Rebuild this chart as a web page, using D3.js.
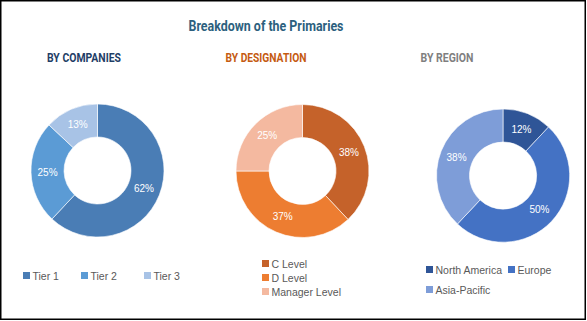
<!DOCTYPE html>
<html>
<head>
<meta charset="utf-8">
<script src="https://cdn.jsdelivr.net/npm/d3@7"></script>
<style>
  body { margin: 0; background: #fff; }
  svg { display: block; }
</style>
</head>
<body>
<div id="chart"></div>
<script>
// chart data
const companyLabels = ["Tier 1", "Tier 2", "Tier 3"];
const companyValues = [62, 25, 13];
const designationLabels = ["C Level", "D Level", "Manager Level"];
const designationValues = [38, 37, 25];
const regionLabels = ["North America", "Europe", "Asia-Pacific"];
const regionValues = [12, 50, 38];

const width = 587, height = 321;

const svg = d3.select("#chart").append("svg")
    .attr("width", width)
    .attr("height", height);

// frame
svg.append("rect")
    .attr("x", 0.75).attr("y", 0.75)
    .attr("width", width - 2.5).attr("height", height - 2.5)
    .attr("fill", "#fff")
    .attr("stroke", "#000")
    .attr("stroke-width", 1.5);

const headFont = "'Liberation Sans Narrow', 'Roboto', sans-serif";
const bodyFont = "'Liberation Sans', sans-serif";

svg.append("text")
    .attr("x", 266).attr("y", 31)
    .attr("text-anchor", "middle")
    .attr("font-family", headFont)
    .attr("font-weight", "bold")
    .attr("font-size", 15)
    .attr("fill", "#2c5f7e")
    .attr("textLength", 155)
    .attr("lengthAdjust", "spacingAndGlyphs")
    .text("Breakdown of the Primaries");

// panel setup
const panels = [
  { title: "BY COMPANIES", titleColor: "#1f3e66", tx: 84, tw: 74, cx: 97.5, cy: 170.5,
    labels: companyLabels, values: companyValues,
    colors: ["#4a7db5", "#5b9bd5", "#a8c3e6"],
    legend: [[23, 276], [81, 276], [144, 276]] },
  { title: "BY DESIGNATION", titleColor: "#c55a11", tx: 266, tw: 81, cx: 302.5, cy: 171,
    labels: designationLabels, values: designationValues,
    colors: ["#c5622a", "#ed7d31", "#f4b9a0"],
    legend: [[262, 264], [262, 278], [262, 292]] },
  { title: "BY REGION", titleColor: "#7f7f7f", tx: 447, tw: 53, cx: 503, cy: 175.5,
    labels: regionLabels, values: regionValues,
    colors: ["#2f5597", "#4472c4", "#7e9dd8"],
    legend: [[426, 270], [508, 270], [426, 290]] }
];

const pie = d3.pie().sort(null);
const arc = d3.arc().innerRadius(33.5).outerRadius(66.5);
const labelArc = d3.arc().innerRadius(50).outerRadius(50);

panels.forEach(p => {
  svg.append("text")
      .attr("x", p.tx).attr("y", 62)
      .attr("text-anchor", "middle")
      .attr("font-family", headFont)
      .attr("font-weight", "bold")
      .attr("font-size", 12)
      .attr("fill", p.titleColor)
      .attr("textLength", p.tw)
      .attr("lengthAdjust", "spacingAndGlyphs")
      .text(p.title);

  const arcs = pie(p.values);
  const g = svg.append("g").attr("transform", `translate(${p.cx},${p.cy})`);

  g.selectAll("path")
    .data(arcs)
    .join("path")
      .attr("d", arc)
      .attr("fill", (d, i) => p.colors[i])
      .attr("stroke", "#fff")
      .attr("stroke-width", 0.6);

  g.selectAll("text")
    .data(arcs)
    .join("text")
      .attr("transform", d => `translate(${labelArc.centroid(d)})`)
      .attr("text-anchor", "middle")
      .attr("dy", "0.35em")
      .attr("font-family", bodyFont)
      .attr("font-size", 10)
      .attr("fill", "#fff")
      .text(d => d.data + "%");

  // legend
  const lg = svg.append("g");
  p.labels.forEach((name, i) => {
    const [lx, ly] = p.legend[i];
    lg.append("rect")
        .attr("x", lx).attr("y", ly - 4)
        .attr("width", 7).attr("height", 7)
        .attr("fill", p.colors[i]);
    lg.append("text")
        .attr("x", lx + 9.5).attr("y", ly)
        .attr("dy", "0.35em")
        .attr("font-family", bodyFont)
        .attr("font-size", 10.5)
        .attr("fill", "#595959")
        .text(name);
  });
});
</script>
</body>
</html>
